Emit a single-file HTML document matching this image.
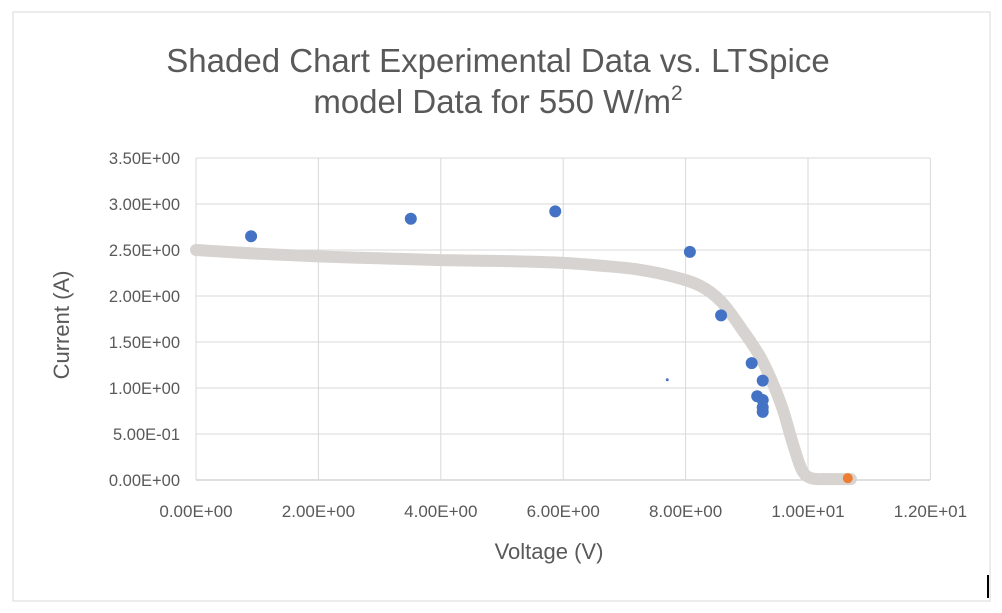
<!DOCTYPE html>
<html><head><meta charset="utf-8"><style>
html,body{margin:0;padding:0;background:#fff;}
svg{display:block;font-family:"Liberation Sans",sans-serif;}
</style></head><body>
<svg id="chart" width="1002" height="613" xmlns="http://www.w3.org/2000/svg">
<rect x="13" y="12" width="977" height="589" fill="#fff" stroke="#d9d9d9" stroke-width="1"/>
<line x1="988" y1="575" x2="988" y2="598" stroke="#000" stroke-width="2"/>
<text x="498" y="72" text-anchor="middle" font-size="33" fill="#595959">Shaded Chart Experimental Data vs. LTSpice</text>
<text x="498" y="113" text-anchor="middle" font-size="33" fill="#595959">model Data for 550 W/m<tspan font-size="21" dy="-13">2</tspan></text>
<g id="grid"></g><g id="axes"></g><g id="curve"></g><g id="pts"></g>
<text x="549" y="559" text-anchor="middle" font-size="22" fill="#595959">Voltage (V)</text>
<text transform="translate(69,325) rotate(-90)" text-anchor="middle" font-size="22" fill="#595959">Current (A)</text>
</svg>
<script>
const xTicks=[0,2,4,6,8,10,12];
const xTickLabels=["0.00E+00","2.00E+00","4.00E+00","6.00E+00","8.00E+00","1.00E+01","1.20E+01"];
const yTicks=[0,0.5,1,1.5,2,2.5,3,3.5];
const yTickLabels=["0.00E+00","5.00E-01","1.00E+00","1.50E+00","2.00E+00","2.50E+00","3.00E+00","3.50E+00"];
const modelV=[0,1,2,3,4,5,6,6.6,7.2,7.8,8.24,8.58,8.93,9.25,9.55,9.75,9.9,10.05,10.3,10.7];
const modelI=[2.5,2.46,2.43,2.41,2.39,2.38,2.36,2.33,2.29,2.21,2.11,1.94,1.63,1.3,0.84,0.4,0.11,0.02,0.01,0.01];
const expV=[0.9,3.51,5.87,8.07,8.58,9.08,9.17,9.26,9.26,9.26,9.26];
const expI=[2.65,2.84,2.92,2.48,1.79,1.27,0.91,1.08,0.87,0.79,0.74];
const smallV=[7.7];
const smallI=[1.09];
const endV=[10.65];
const endI=[0.02];
const NS="http://www.w3.org/2000/svg";
const X=v=>196+v*61.2, Y=i=>480-i*92;
function mk(t,a,p){const e=document.createElementNS(NS,t);for(const k in a)e.setAttribute(k,a[k]);document.getElementById(p).appendChild(e);return e;}
yTicks.forEach((t,k)=>{
 const l=mk('line',{x1:196,x2:930,y1:Y(t),y2:Y(t),stroke:t===0?'#bfbfbf':'#d9d9d9','stroke-width':1},'grid');
 
 
 const tx=mk('text',{x:180,y:Y(t)+6,'text-anchor':'end','font-size':16.5,fill:'#595959'},'axes');tx.textContent=yTickLabels[k];
 
 
});
xTicks.forEach((t,k)=>{
 const l=mk('line',{x1:X(t),x2:X(t),y1:Y(3.5),y2:Y(0),stroke:'#d9d9d9','stroke-width':1},'grid');
 
 
 const tx=mk('text',{x:X(t),y:517,'text-anchor':'middle','font-size':17,fill:'#595959'},'axes');tx.textContent=xTickLabels[k];
 
 
});
const P=modelV.map((v,k)=>[X(v),Y(modelI[k])]);
let d='M'+P[0][0]+','+P[0][1];
for(let k=0;k<P.length-1;k++){
 const p0=P[Math.max(k-1,0)],p1=P[k],p2=P[k+1],p3=P[Math.min(k+2,P.length-1)];
 const c1=[p1[0]+(p2[0]-p0[0])/6,p1[1]+(p2[1]-p0[1])/6];
 const c2=[p2[0]-(p3[0]-p1[0])/6,p2[1]-(p3[1]-p1[1])/6];
 d+=' C'+c1[0]+','+c1[1]+' '+c2[0]+','+c2[1]+' '+p2[0]+','+p2[1];
}
const c=mk('path',{d:d,fill:'none',stroke:'#d6d3d0','stroke-width':12,'stroke-linejoin':'round','stroke-linecap':'round'},'curve');


expV.forEach((v,k)=>{const p=mk('circle',{cx:X(v),cy:Y(expI[k]),r:6,fill:'#4472c4'},'pts');
 
 });
smallV.forEach((v,k)=>{const p=mk('circle',{cx:X(v),cy:Y(smallI[k]),r:1.5,fill:'#4472c4'},'pts');
 
 });
endV.forEach((v,k)=>{const p=mk('circle',{cx:X(v),cy:Y(endI[k]),r:5,fill:'#ed7d31'},'pts');
 
 });
</script>
</body></html>
